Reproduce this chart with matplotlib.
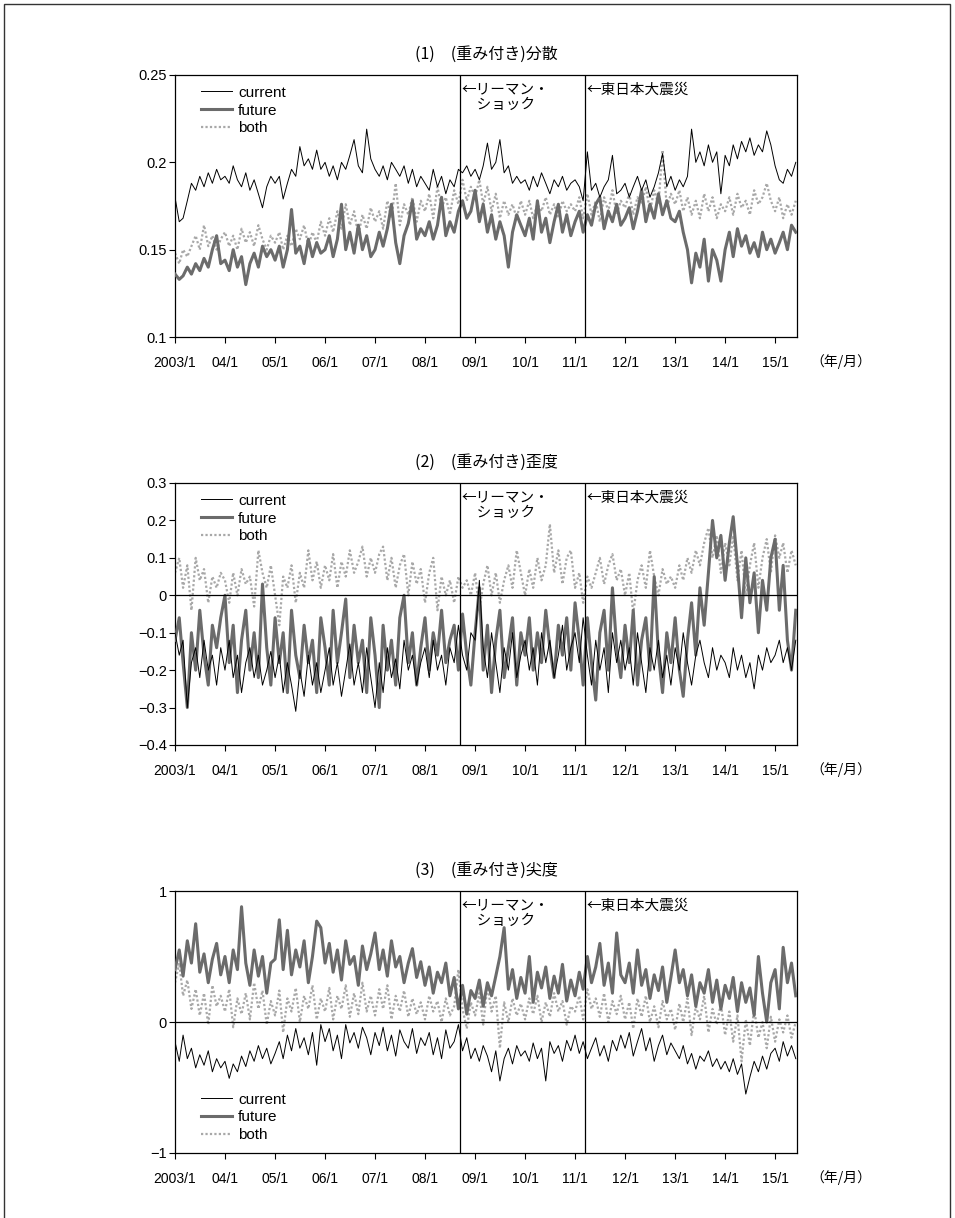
import matplotlib
matplotlib.use("Agg")
import matplotlib.pyplot as plt
import matplotlib.dates as mdates
import pandas as pd
from matplotlib.patches import Rectangle

plt.rcParams['font.family'] = ['Liberation Sans', 'Noto Sans CJK JP']

dates = pd.date_range('2003-01-01', periods=150, freq='MS')

# ---------------- (1) variance ----------------
var_current = [
    0.180, 0.166, 0.168, 0.178, 0.188, 0.184, 0.192, 0.186, 0.194, 0.188, 0.196, 0.190,
    0.192, 0.188, 0.198, 0.190, 0.186, 0.194, 0.184, 0.190, 0.182, 0.174, 0.186, 0.192,
    0.188, 0.192, 0.179, 0.188, 0.196, 0.192, 0.209, 0.198, 0.202, 0.196, 0.207, 0.196,
    0.200, 0.192, 0.198, 0.190, 0.200, 0.196, 0.204, 0.213, 0.198, 0.194, 0.219, 0.202,
    0.196, 0.192, 0.198, 0.190, 0.200, 0.196, 0.192, 0.198, 0.188, 0.196, 0.186, 0.192,
    0.188, 0.184, 0.196, 0.186, 0.192, 0.182, 0.190, 0.186, 0.196, 0.194, 0.198, 0.192,
    0.196, 0.190, 0.198, 0.211, 0.196, 0.200, 0.213, 0.194, 0.198, 0.188, 0.192, 0.188,
    0.190, 0.184, 0.192, 0.186, 0.194, 0.188, 0.182, 0.190, 0.186, 0.192, 0.184, 0.188,
    0.190, 0.186, 0.178, 0.206, 0.184, 0.188, 0.180, 0.186, 0.190, 0.204, 0.182, 0.184,
    0.188, 0.180, 0.186, 0.192, 0.184, 0.190, 0.180, 0.186, 0.194, 0.205, 0.186, 0.192,
    0.184, 0.190, 0.186, 0.192, 0.219, 0.200, 0.206, 0.198, 0.210, 0.200, 0.206, 0.182,
    0.204, 0.198, 0.210, 0.202, 0.212, 0.206, 0.214, 0.204, 0.210, 0.206, 0.218, 0.210,
    0.198, 0.190, 0.188, 0.196, 0.192, 0.200,
]
var_future = [
    0.136, 0.133, 0.135, 0.140, 0.136, 0.142, 0.138, 0.145, 0.140, 0.150, 0.158, 0.142,
    0.144, 0.138, 0.150, 0.140, 0.146, 0.130, 0.142, 0.148, 0.140, 0.152, 0.146, 0.150,
    0.144, 0.152, 0.140, 0.150, 0.173, 0.148, 0.152, 0.142, 0.156, 0.146, 0.154, 0.148,
    0.150, 0.158, 0.146, 0.156, 0.176, 0.150, 0.160, 0.148, 0.164, 0.150, 0.158, 0.146,
    0.150, 0.160, 0.152, 0.162, 0.176, 0.154, 0.142, 0.158, 0.165, 0.178, 0.156, 0.162,
    0.158, 0.166, 0.156, 0.164, 0.180, 0.158, 0.166, 0.160, 0.172, 0.178, 0.168, 0.172,
    0.184, 0.166, 0.176, 0.160, 0.170, 0.156, 0.166, 0.158, 0.140, 0.160, 0.170, 0.164,
    0.158, 0.168, 0.156, 0.178, 0.160, 0.168, 0.154, 0.166, 0.176, 0.160, 0.170, 0.158,
    0.166, 0.172, 0.160, 0.170, 0.164, 0.176, 0.180, 0.162, 0.172, 0.166, 0.176, 0.164,
    0.168, 0.174, 0.162, 0.172, 0.184, 0.166, 0.176, 0.168, 0.182, 0.170, 0.178, 0.168,
    0.166, 0.172, 0.160, 0.150, 0.131, 0.148, 0.140, 0.156, 0.132, 0.150, 0.144, 0.132,
    0.150, 0.160, 0.146, 0.162, 0.152, 0.158, 0.148, 0.154, 0.146, 0.160, 0.150, 0.156,
    0.148, 0.154, 0.160, 0.150, 0.164, 0.160,
]
var_both = [
    0.148, 0.142, 0.150, 0.146, 0.152, 0.158, 0.150, 0.164, 0.152, 0.158, 0.150, 0.156,
    0.160, 0.152, 0.158, 0.150, 0.162, 0.154, 0.160, 0.152, 0.164, 0.156, 0.150, 0.158,
    0.154, 0.160, 0.150, 0.158, 0.152, 0.162, 0.156, 0.164, 0.152, 0.160, 0.154, 0.166,
    0.158, 0.168, 0.160, 0.172, 0.162, 0.176, 0.164, 0.172, 0.158, 0.170, 0.162, 0.174,
    0.166, 0.172, 0.162, 0.178, 0.168, 0.188, 0.164, 0.176, 0.170, 0.180, 0.166, 0.178,
    0.172, 0.182, 0.168, 0.186, 0.174, 0.180, 0.170, 0.184, 0.176, 0.190, 0.178, 0.186,
    0.180, 0.190, 0.176, 0.186, 0.172, 0.182, 0.168, 0.178, 0.170, 0.176, 0.168, 0.178,
    0.170, 0.178, 0.168, 0.176, 0.172, 0.180, 0.170, 0.176, 0.168, 0.178, 0.172, 0.176,
    0.172, 0.180, 0.168, 0.182, 0.170, 0.178, 0.166, 0.180, 0.172, 0.184, 0.170, 0.178,
    0.174, 0.182, 0.170, 0.180, 0.176, 0.186, 0.172, 0.184, 0.176, 0.207, 0.174, 0.182,
    0.176, 0.184, 0.172, 0.180, 0.170, 0.178, 0.168, 0.182, 0.172, 0.180, 0.168, 0.176,
    0.172, 0.180, 0.170, 0.182, 0.174, 0.178, 0.170, 0.184, 0.176, 0.180, 0.188, 0.178,
    0.172, 0.180, 0.168, 0.176, 0.170, 0.178,
]

# ---------------- (2) skewness ----------------
skew_current = [
    -0.10, -0.16, -0.12, -0.30, -0.18, -0.14, -0.22, -0.12, -0.20, -0.16, -0.24, -0.14,
    -0.20, -0.12, -0.22, -0.16, -0.26, -0.18, -0.14, -0.22, -0.16, -0.24, -0.20, -0.15,
    -0.22, -0.16, -0.26, -0.18, -0.24, -0.31, -0.20, -0.27, -0.16, -0.24, -0.18, -0.26,
    -0.20, -0.14, -0.24, -0.18, -0.27, -0.20, -0.13, -0.24, -0.18, -0.26, -0.14, -0.22,
    -0.30, -0.18, -0.26, -0.14, -0.22, -0.17, -0.25, -0.12, -0.20, -0.16, -0.24, -0.18,
    -0.14, -0.22, -0.12, -0.20, -0.16, -0.24, -0.14, -0.18, -0.08, -0.16, -0.20, -0.10,
    -0.12, 0.04, -0.14, -0.22, -0.10, -0.18, -0.26, -0.14, -0.20, -0.10, -0.22, -0.16,
    -0.12, -0.20, -0.14, -0.24, -0.10, -0.18, -0.12, -0.22, -0.16, -0.08, -0.20, -0.14,
    -0.10, -0.18, -0.06, -0.16, -0.24, -0.12, -0.20, -0.14, -0.26, -0.10, -0.18, -0.12,
    -0.20, -0.14, -0.24, -0.10, -0.18, -0.26, -0.14, -0.20, -0.12, -0.22, -0.16, -0.24,
    -0.14, -0.20, -0.10, -0.18, -0.24, -0.16, -0.12, -0.18, -0.22, -0.14, -0.20, -0.16,
    -0.18, -0.22, -0.14, -0.20, -0.16, -0.22, -0.18, -0.25, -0.16, -0.20, -0.14, -0.18,
    -0.16, -0.12, -0.18, -0.14, -0.20, -0.12,
]
skew_future = [
    -0.12, -0.06, -0.18, -0.30, -0.10, -0.20, -0.04, -0.16, -0.24, -0.08, -0.14, -0.06,
    0.00, -0.18, -0.08, -0.26, -0.12, -0.04, -0.20, -0.10, -0.22, 0.03, -0.14, -0.24,
    -0.06, -0.18, -0.10, -0.26, -0.04, -0.16, -0.22, -0.08, -0.18, -0.12, -0.26, -0.06,
    -0.14, -0.24, -0.04, -0.18, -0.10, -0.01, -0.22, -0.08, -0.18, -0.12, -0.26, -0.06,
    -0.16, -0.30, -0.08, -0.20, -0.12, -0.24, -0.06, 0.00, -0.18, -0.10, -0.24, -0.14,
    -0.06, -0.20, -0.10, -0.16, -0.04, -0.18, -0.12, -0.08, -0.20, -0.05, -0.16, -0.24,
    -0.10, 0.02, -0.20, -0.08, -0.26, -0.12, -0.04, -0.22, -0.14, -0.06, -0.24, -0.10,
    -0.16, -0.06, -0.20, -0.10, -0.18, -0.04, -0.14, -0.22, -0.08, -0.16, -0.06, -0.20,
    -0.02, -0.12, -0.24, -0.06, -0.18, -0.28, -0.10, -0.04, -0.20, 0.02, -0.14, -0.22,
    -0.08, -0.18, -0.04, -0.24, -0.12, -0.06, -0.20, 0.05, -0.16, -0.26, -0.10, -0.18,
    -0.06, -0.20, -0.27, -0.12, -0.02, -0.16, 0.02, -0.08, 0.06, 0.20, 0.10, 0.16,
    0.04, 0.14, 0.21, 0.08, -0.06, 0.10, -0.02, 0.06, -0.10, 0.04, -0.04, 0.10,
    0.15, -0.04, 0.08, -0.12, -0.20, -0.04,
]
skew_both = [
    0.06, 0.10, 0.02, 0.08, -0.04, 0.10, 0.04, 0.07, -0.02, 0.05, 0.02, 0.06,
    0.04, -0.02, 0.06, 0.00, 0.07, 0.03, 0.05, -0.03, 0.12, 0.06, 0.02, 0.08,
    0.00, -0.08, 0.05, 0.02, 0.08, -0.02, 0.06, 0.02, 0.12, 0.04, 0.09, 0.02,
    0.08, 0.04, 0.11, 0.02, 0.09, 0.05, 0.12, 0.06, 0.09, 0.13, 0.05, 0.10,
    0.06, 0.11, 0.13, 0.04, 0.10, 0.02, 0.08, 0.11, 0.00, 0.09, 0.03, 0.07,
    -0.02, 0.06, 0.10, -0.04, 0.05, 0.00, 0.04, -0.02, 0.05, 0.02, 0.04, 0.00,
    0.06, -0.04, 0.03, 0.08, 0.00, 0.06, -0.02, 0.04, 0.08, 0.02, 0.12, 0.06,
    0.00, 0.07, 0.02, 0.10, 0.04, 0.08, 0.19, 0.06, 0.12, 0.03, 0.10, 0.12,
    0.02, 0.06, -0.02, 0.05, 0.02, 0.06, 0.10, 0.03, 0.08, 0.11, 0.04, 0.07,
    0.00, 0.06, -0.05, 0.04, 0.08, 0.02, 0.12, 0.05, 0.00, 0.07, 0.03, 0.05,
    0.02, 0.08, 0.04, 0.10, 0.06, 0.12, 0.08, 0.14, 0.18, 0.10, 0.16, 0.06,
    0.14, 0.08, 0.16, 0.04, 0.12, 0.00, 0.08, 0.14, 0.02, 0.10, 0.15, 0.06,
    0.16, 0.10, 0.14, 0.06, 0.12, 0.08,
]

# ---------------- (3) kurtosis ----------------
kurt_current = [
    -0.15, -0.30, -0.10, -0.28, -0.20, -0.35, -0.25, -0.33, -0.22, -0.38, -0.28, -0.35,
    -0.30, -0.43, -0.32, -0.38, -0.26, -0.34, -0.22, -0.30, -0.18, -0.28, -0.20, -0.32,
    -0.24, -0.15, -0.28, -0.10, -0.22, -0.05, -0.20, -0.12, -0.25, -0.08, -0.33, -0.02,
    -0.15, -0.05, -0.22, -0.10, -0.28, -0.02, -0.16, -0.08, -0.20, -0.04, -0.12, -0.25,
    -0.08, -0.18, -0.04, -0.22, -0.10, -0.26, -0.06, -0.15, -0.20, -0.05, -0.24, -0.12,
    -0.18, -0.08, -0.25, -0.12, -0.28, -0.06, -0.20, -0.15, -0.02, -0.22, -0.12, -0.28,
    -0.20, -0.30, -0.18, -0.26, -0.38, -0.22, -0.45, -0.28, -0.20, -0.32, -0.18, -0.26,
    -0.22, -0.30, -0.16, -0.28, -0.20, -0.45, -0.15, -0.24, -0.18, -0.30, -0.14, -0.22,
    -0.10, -0.24, -0.15, -0.28, -0.20, -0.12, -0.26, -0.18, -0.30, -0.14, -0.22, -0.10,
    -0.20, -0.08, -0.26, -0.15, -0.05, -0.22, -0.12, -0.30, -0.18, -0.10, -0.25, -0.16,
    -0.22, -0.28, -0.18, -0.32, -0.24, -0.36, -0.26, -0.30, -0.22, -0.34, -0.28, -0.36,
    -0.30, -0.38, -0.28, -0.40, -0.32, -0.55, -0.42, -0.30, -0.38, -0.26, -0.36, -0.24,
    -0.20, -0.30, -0.15, -0.26, -0.18, -0.28,
]
kurt_future = [
    0.40, 0.55, 0.35, 0.62, 0.45, 0.75, 0.38, 0.52, 0.30, 0.48, 0.60, 0.36,
    0.50, 0.30, 0.55, 0.40, 0.88, 0.45, 0.28, 0.55, 0.35, 0.50, 0.22, 0.45,
    0.48, 0.78, 0.40, 0.70, 0.36, 0.55, 0.42, 0.62, 0.30, 0.50, 0.77, 0.72,
    0.45, 0.60, 0.38, 0.55, 0.32, 0.62, 0.44, 0.50, 0.28, 0.58, 0.40, 0.52,
    0.68, 0.40, 0.55, 0.35, 0.62, 0.42, 0.50, 0.30, 0.45, 0.56, 0.34, 0.46,
    0.28, 0.42, 0.22, 0.38, 0.30, 0.45, 0.20, 0.34, 0.10, 0.28, 0.06, 0.24,
    0.18, 0.32, 0.12, 0.30, 0.20, 0.35, 0.50, 0.72, 0.25, 0.40, 0.18, 0.34,
    0.22, 0.50, 0.15, 0.38, 0.26, 0.42, 0.18, 0.35, 0.22, 0.44, 0.16, 0.32,
    0.20, 0.38, 0.25, 0.50, 0.30, 0.42, 0.60, 0.28, 0.45, 0.22, 0.68, 0.36,
    0.30, 0.45, 0.22, 0.55, 0.28, 0.40, 0.18, 0.36, 0.24, 0.42, 0.15, 0.34,
    0.55, 0.30, 0.40, 0.20, 0.36, 0.12, 0.30, 0.22, 0.40, 0.15, 0.32, 0.10,
    0.28, 0.18, 0.34, 0.08, 0.30, 0.15, 0.26, 0.05, 0.50, 0.22, 0.00, 0.30,
    0.40, 0.10, 0.57, 0.30, 0.45, 0.20,
]
kurt_both = [
    0.30, 0.45, 0.20, 0.32, 0.10, 0.25, 0.05, 0.22, -0.02, 0.28, 0.12, 0.20,
    0.08, 0.25, -0.04, 0.18, 0.06, 0.22, 0.02, 0.30, 0.10, 0.24, -0.02, 0.16,
    0.05, 0.24, -0.08, 0.18, 0.08, 0.26, 0.00, 0.20, 0.10, 0.28, 0.02, 0.18,
    0.08, 0.26, 0.02, 0.20, 0.10, 0.28, 0.04, 0.22, 0.06, 0.30, 0.08, 0.20,
    0.05, 0.25, 0.10, 0.28, 0.02, 0.20, 0.08, 0.24, 0.04, 0.18, 0.06, 0.15,
    0.02, 0.20, 0.08, 0.16, 0.00, 0.18, 0.05, 0.12, 0.40, 0.10, -0.05, 0.15,
    0.05, 0.22, -0.02, 0.28, 0.08, 0.20, -0.20, 0.15, 0.00, 0.18, 0.05, 0.14,
    0.02, 0.18, 0.06, 0.20, 0.00, 0.15, 0.04, 0.22, 0.08, 0.16, -0.02, 0.12,
    0.08, 0.20, 0.02, 0.25, 0.10, 0.18, 0.04, 0.22, 0.00, 0.16, 0.06, 0.20,
    0.02, 0.15, -0.05, 0.18, 0.04, 0.20, 0.00, 0.12, -0.04, 0.16, 0.02, 0.10,
    -0.06, 0.14, 0.00, 0.18, -0.10, 0.12, 0.02, 0.20, -0.08, 0.10, -0.02, 0.14,
    -0.10, 0.08, -0.15, 0.05, -0.30, 0.02, -0.18, 0.10, -0.12, 0.00, -0.20, 0.04,
    -0.15, 0.02, -0.08, 0.05, -0.12, 0.00,
]

titles = ['(1)　(重み付き)分散', '(2)　(重み付き)歪度', '(3)　(重み付き)尖度']
series_labels = ['current', 'future', 'both']
year_ticks = pd.date_range('2003-01-01', '2015-01-01', freq='YS')
tick_labels = ['2003/1'] + [f'{y % 100:02d}/1' for y in range(2004, 2016)]
event_dates = [pd.Timestamp('2008-09-15'), pd.Timestamp('2011-03-11')]
event_labels = ['←リーマン・\n　ショック', '←東日本大震災']
ylims = [(0.1, 0.25), (-0.4, 0.3), (-1, 1)]
yticks = [[0.1, 0.15, 0.2, 0.25],
          [-0.4, -0.3, -0.2, -0.1, 0, 0.1, 0.2, 0.3],
          [-1, 0, 1]]
yticklabels = [['0.1', '0.15', '0.2', '0.25'],
               ['−0.4', '−0.3', '−0.2', '−0.1', '0', '0.1', '0.2', '0.3'],
               ['−1', '0', '1']]
data = [(var_current, var_future, var_both),
        (skew_current, skew_future, skew_both),
        (kurt_current, kurt_future, kurt_both)]

W, H = 955, 1218
fig = plt.figure(figsize=(W / 100, H / 100), dpi=100)
fig.patches.append(Rectangle((4 / W, -0.05), 946 / W, 1.05 - 4 / H,
                             transform=fig.transFigure, fill=False,
                             edgecolor='#333333', linewidth=1.0))

ax_left, ax_w, ax_h = 175 / W, 622 / W, 262 / H
tops = [75, 483, 891]
xmin, xmax = pd.Timestamp('2003-01-01'), pd.Timestamp('2015-06-10')

for i in range(3):
    ax = fig.add_axes([ax_left, 1 - (tops[i] + 262) / H, ax_w, ax_h])
    cur, fut, bot = data[i]
    ax.plot(dates, cur, color='black', lw=0.7, label=series_labels[0], zorder=4)
    ax.plot(dates, fut, color='#6b6b6b', lw=2.2, label=series_labels[1], zorder=3)
    ax.plot(dates, bot, color='#a8a8a8', lw=1.6, ls=(0, (1, 1)), label=series_labels[2], zorder=2)
    if i > 0:
        ax.axhline(0, color='black', lw=0.9, zorder=5)
    for ed in event_dates:
        ax.axvline(ed, color='black', lw=0.9, zorder=5)
    ytop = ylims[i][1] - 0.03 * (ylims[i][1] - ylims[i][0])
    ax.text(event_dates[0] + pd.Timedelta(days=12), ytop,
            event_labels[0], fontsize=10.5, va='top', ha='left', linespacing=1.05,
            family=['Noto Sans CJK JP'])
    ax.text(event_dates[1] + pd.Timedelta(days=12), ytop,
            event_labels[1], fontsize=10.5, va='top', ha='left',
            family=['Noto Sans CJK JP'])
    ax.set_xlim(xmin, xmax)
    ax.set_ylim(*ylims[i])
    ax.set_xticks(year_ticks)
    ax.set_xticklabels(tick_labels)
    ax.set_yticks(yticks[i])
    ax.set_yticklabels(yticklabels[i])
    ax.tick_params(axis='x', direction='out', length=4, width=0.8, pad=10, labelsize=10)
    ax.tick_params(axis='y', direction='out', length=4, width=0.8, pad=2, labelsize=10.5)
    for s in ax.spines.values():
        s.set_linewidth(0.9)
    ax.set_title(titles[i], fontsize=11.5, pad=12, family=['Noto Sans CJK JP'])
    ax.text(1.07, -0.095, '（年/月）', transform=ax.transAxes, fontsize=10,
            ha='center', va='center', family=['Noto Sans CJK JP'])
    loc = 'upper left' if i < 2 else 'lower left'
    ax.legend(loc=loc, frameon=False, fontsize=11, handlelength=2.0,
              handletextpad=0.4, labelspacing=0.25, borderaxespad=0.3,
              bbox_to_anchor=(0.025, 1.0) if i < 2 else (0.025, 0.0))

fig.savefig('out.png', dpi=100)
